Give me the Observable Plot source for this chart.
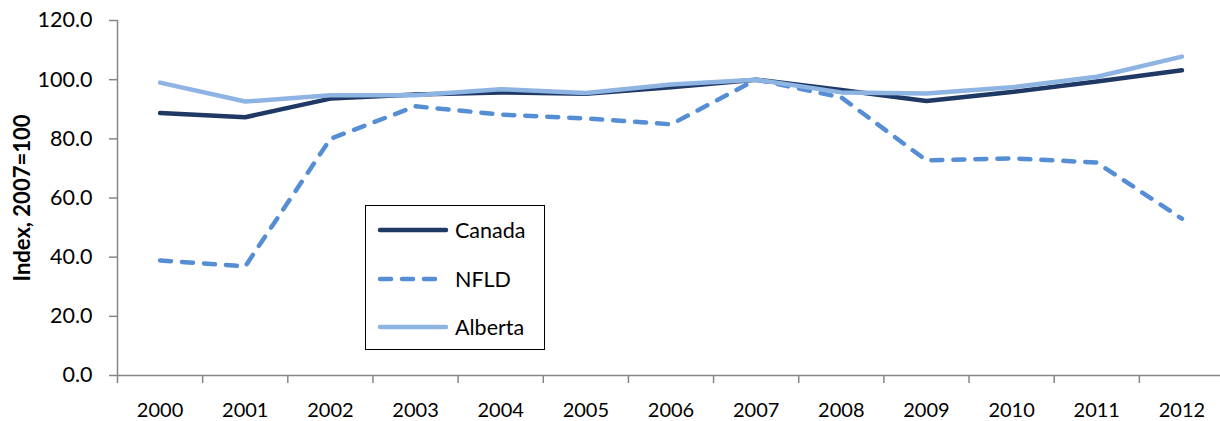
<!DOCTYPE html>
<html>
<head>
<meta charset="utf-8">
<script src="https://cdn.jsdelivr.net/npm/d3@7"></script>
<script src="https://cdn.jsdelivr.net/npm/@observablehq/plot@0.6"></script>
<style>
  html, body { margin: 0; padding: 0; background: #fff; }
  #wrap { position: relative; width: 1220px; height: 421px; font-family: Lato, "Open Sans", sans-serif; }
  #legend { position: absolute; left: 365px; top: 205px; width: 178px; height: 143px; border: 1.6px solid #000; background: #fff; }
  .row { position: absolute; left: 0; height: 26px; display: flex; align-items: center; font-size: 21.5px; color: #000; }
  .row svg { margin-left: 11px; margin-right: 6px; }
</style>
</head>
<body>
<div id="wrap"></div>
<script>
const years = [2000, 2001, 2002, 2003, 2004, 2005, 2006, 2007, 2008, 2009, 2010, 2011, 2012];
const canada  = [88.7, 87.3, 93.6, 95.0, 95.7, 95.2, 97.4, 100.0, 96.5, 92.8, 95.8, 99.4, 103.2];
const nfld    = [38.9, 36.9, 80.0, 91.0, 88.2, 86.9, 84.9, 100.0, 94.0, 72.7, 73.4, 72.0, 53.0];
const alberta = [99.0, 92.6, 94.7, 94.7, 96.8, 95.5, 98.4, 100.0, 95.7, 95.3, 97.4, 101.0, 107.8];
const yTicks = [0, 20, 40, 60, 80, 100, 120];
const seriesNames = ["Canada", "NFLD", "Alberta"];
const seriesColors = ["#1f3864", "#558ed5", "#8db4e2"];
const seriesDash = [null, "11,11", null];

const series = [canada, nfld, alberta];
const data = seriesNames.flatMap((name, i) => years.map((yr, j) => ({name, year: yr, value: series[i][j]})));
const boundaries = years.map(y => y - 0.5).concat([years[years.length - 1] + 0.5]);

const font = "Lato, 'Open Sans', sans-serif";
const plot = Plot.plot({
  width: 1220, height: 421,
  marginLeft: 117, marginRight: 0, marginTop: 20, marginBottom: 46,
  style: {fontFamily: font, fontSize: "20px", color: "#000", background: "#fff", overflow: "visible"},
  x: {type: "linear", domain: [1999.5, 2012.5], range: [117, 1224]},
  y: {domain: [0, 120]},
  marks: [
    Plot.axisY({ticks: yTicks, tickSize: 8, tickPadding: 17, tickFormat: d => d.toFixed(1), stroke: "#868686", strokeWidth: 1.5, color: "#000", label: null, fontSize: 21.5}),
    Plot.axisX({ticks: boundaries, tickSize: 8, tickFormat: () => "", stroke: "#868686", strokeWidth: 1.5, label: null}),
    Plot.axisX({ticks: years, tickSize: 0, tickPadding: 27, tickFormat: d => String(d), label: null, fontSize: 20}),
    Plot.ruleY([0], {stroke: "#868686", strokeWidth: 1.5}),
    Plot.ruleX([1999.5], {stroke: "#868686", strokeWidth: 1.5}),
    Plot.line(data.filter(d => d.name === "Canada"), {x: "year", y: "value", stroke: seriesColors[0], strokeWidth: 4.5, strokeLinecap: "round", strokeLinejoin: "round"}),
    Plot.line(data.filter(d => d.name === "NFLD"), {x: "year", y: "value", stroke: seriesColors[1], strokeWidth: 4.5, strokeDasharray: seriesDash[1], strokeLinecap: "round", strokeLinejoin: "round"}),
    Plot.line(data.filter(d => d.name === "Alberta"), {x: "year", y: "value", stroke: seriesColors[2], strokeWidth: 4.5, strokeLinecap: "round", strokeLinejoin: "round"}),
    Plot.text(["Index, 2007=100"], {frameAnchor: "left", textAnchor: "middle", rotate: -90, dx: -95, fontWeight: "bold", fontSize: 22, fill: "#000"})
  ]
});
const wrap = document.getElementById("wrap");
wrap.appendChild(plot);

const legend = document.createElement("div");
legend.id = "legend";
const rowTops = [11, 60, 108];
seriesNames.forEach((name, i) => {
  const row = document.createElement("div");
  row.className = "row";
  row.style.top = rowTops[i] + "px";
  const dash = seriesDash[i] ? `stroke-dasharray="11,11"` : "";
  row.innerHTML = `<svg width="72" height="10"><line x1="3" x2="69" y1="5" y2="5" stroke="${seriesColors[i]}" stroke-width="4.5" stroke-linecap="round" ${dash}/></svg><span>${name}</span>`;
  legend.appendChild(row);
});
wrap.appendChild(legend);
</script>
</body>
</html>
